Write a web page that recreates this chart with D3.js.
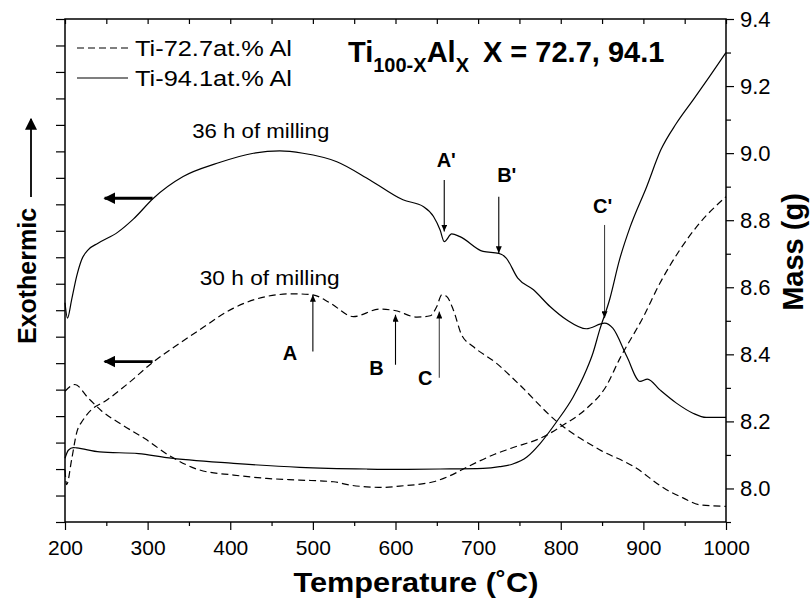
<!DOCTYPE html>
<html>
<head>
<meta charset="utf-8">
<script src="https://cdn.jsdelivr.net/npm/d3@7"></script>
<style>
  body { margin: 0; background: #fff; }
  svg { display: block; font-family: "Liberation Sans", Arial, Helvetica, sans-serif; }
</style>
</head>
<body>
<div id="chart"></div>
<script>
// temperature axis ticks (°C)
const xMajor = [200, 300, 400, 500, 600, 700, 800, 900, 1000];
const xMinor = [250, 350, 450, 550, 650, 750, 850, 950];
// right axis, mass (g)
const massMajor = [8.0, 8.2, 8.4, 8.6, 8.8, 9.0, 9.2, 9.4];
const massMinor = [7.9, 8.1, 8.3, 8.5, 8.7, 8.9, 9.1, 9.3];
// left axis has unlabelled ticks, heat flow in arbitrary units
const dscTicks = [0, 1, 2, 3, 4, 5, 6, 7, 8, 9, 10, 11, 12, 13, 14, 15, 16, 17, 18, 19];

// DSC, 36 h of milling (Ti-94.1at.% Al), solid
const dsc36T = [200, 203, 208, 214, 220, 228, 240, 264, 283, 307, 343, 384, 428, 460, 488, 529, 569, 609, 634, 646, 654, 659, 668, 678, 706, 725, 734, 748, 767, 787, 807, 831, 853, 863, 880, 896, 905, 920, 940, 960, 976, 1000];
const dsc36 = [8.28, 7.70, 8.39, 9.27, 9.90, 10.28, 10.53, 10.95, 11.45, 12.23, 13.05, 13.55, 13.93, 14.02, 13.93, 13.61, 12.92, 12.17, 11.91, 11.54, 11.03, 10.59, 10.88, 10.78, 10.22, 10.15, 9.97, 9.21, 8.77, 8.14, 7.64, 7.30, 7.51, 7.32, 6.25, 5.31, 5.40, 4.99, 4.49, 4.11, 3.95, 3.95];

// DSC, 30 h of milling (Ti-72.7at.% Al), dashed
const dsc30T = [200, 202, 208, 214, 222, 232, 248, 277, 305, 333, 363, 404, 444, 476, 500, 521, 549, 581, 599, 626, 642, 650, 656, 662, 670, 680, 694, 722, 748, 795, 847, 888, 928, 948, 968, 1000];
const dsc30 = [1.97, 1.41, 2.35, 3.36, 3.86, 4.24, 4.55, 5.25, 6.00, 6.63, 7.26, 8.08, 8.52, 8.62, 8.58, 8.27, 7.76, 8.04, 7.99, 7.74, 7.79, 8.14, 8.58, 8.52, 8.01, 7.07, 6.63, 6.00, 5.25, 3.80, 2.73, 2.10, 1.22, 0.91, 0.65, 0.59];

// mass, Ti-72.7at.% Al, dashed
const mass727T = [200, 212, 228, 244, 269, 297, 325, 363, 404, 444, 484, 525, 545, 565, 585, 605, 646, 666, 686, 700, 720, 740, 779, 803, 831, 855, 871, 900, 920, 944, 968, 1000];
const mass727 = [8.29, 8.31, 8.27, 8.232, 8.19, 8.148, 8.10, 8.055, 8.04, 8.03, 8.025, 8.02, 8.01, 8.005, 8.003, 8.007, 8.02, 8.038, 8.063, 8.08, 8.102, 8.12, 8.154, 8.189, 8.238, 8.305, 8.385, 8.512, 8.612, 8.711, 8.791, 8.87];

// mass, Ti-94.1at.% Al, solid
const mass941T = [200, 204, 210, 214, 242, 289, 323, 404, 484, 565, 605, 654, 706, 726, 742, 759, 775, 795, 815, 831, 839, 847, 859, 871, 884, 904, 921, 940, 960, 980, 1000];
const mass941 = [8.09, 8.114, 8.122, 8.121, 8.109, 8.104, 8.092, 8.075, 8.063, 8.058, 8.057, 8.058, 8.06, 8.065, 8.073, 8.094, 8.134, 8.199, 8.273, 8.353, 8.404, 8.472, 8.562, 8.681, 8.78, 8.90, 9.009, 9.089, 9.158, 9.228, 9.30];

// peak markers: temperature, arrow from / to (heat flow units)
const peaksBelow = [
  {name: "A", t: 500, from: 6.44, to: 8.58, lx: -23, ly: 8},
  {name: "B", t: 600, from: 5.94, to: 7.83, lx: -19, ly: 10},
  {name: "C", t: 653, from: 5.45, to: 7.95, lx: -14, ly: 7}
];
const peaksAbove = [
  {name: "A'", t: 659, from: 12.92, to: 10.97, lx: 2, ly: -13},
  {name: "B'", t: 725, from: 12.29, to: 10.15, lx: 8, ly: -15},
  {name: "C'", t: 853, from: 11.22, to: 7.70, lx: -2, ly: -12}
];

const W = 811, H = 600;
const margin = {top: 19, right: 85, bottom: 78, left: 65};
const x0 = margin.left, x1 = W - margin.right, y0 = H - margin.bottom, y1 = margin.top;

const svg = d3.select("#chart").append("svg")
    .attr("width", W)
    .attr("height", H);

const x = d3.scaleLinear().domain([200, 1000]).range([x0, x1]);
const yMass = d3.scaleLinear().domain([7.9, 9.4]).range([y0, y1]);
const yDsc = d3.scaleLinear().domain([0, 19]).range([y0, y1]);

const defs = svg.append("defs");
defs.append("marker")
    .attr("id", "tip")
    .attr("viewBox", "0 0 10 10")
    .attr("refX", 10).attr("refY", 5)
    .attr("markerUnits", "userSpaceOnUse")
    .attr("markerWidth", 7).attr("markerHeight", 6)
    .attr("preserveAspectRatio", "none")
    .attr("orient", "auto")
  .append("path").attr("d", "M0,0L10,5L0,10Z").attr("fill", "#000");
defs.append("marker")
    .attr("id", "bigtip")
    .attr("viewBox", "0 0 10 10")
    .attr("refX", 9).attr("refY", 5)
    .attr("markerUnits", "userSpaceOnUse")
    .attr("markerWidth", 12).attr("markerHeight", 12)
    .attr("preserveAspectRatio", "none")
    .attr("orient", "auto")
  .append("path").attr("d", "M0,0L10,5L0,10Z").attr("fill", "#000");

// axes
function styleAxis(g, fs) {
  g.select(".domain").remove();
  g.selectAll(".tick line").attr("stroke", "#000").attr("stroke-width", 1.2);
  g.selectAll(".tick text")
      .attr("fill", "#000")
      .attr("font-size", fs)
      .attr("font-family", "'Liberation Sans', Arial, sans-serif");
}

svg.append("g")
    .attr("transform", `translate(0,${y0})`)
    .call(d3.axisBottom(x).tickValues(xMajor).tickSize(8).tickPadding(10).tickFormat(d3.format("d")))
    .call(g => styleAxis(g, 21));
svg.append("g")
    .attr("transform", `translate(0,${y0})`)
    .call(d3.axisBottom(x).tickValues(xMinor).tickSize(4).tickFormat(""))
    .call(g => styleAxis(g, 21));
svg.append("g")
    .attr("transform", `translate(0,${y1})`)
    .call(d3.axisTop(x).tickValues(xMajor.concat(xMinor)).tickSize(-5).tickFormat(""))
    .call(g => styleAxis(g, 21));
svg.append("g")
    .attr("transform", `translate(${x0},0)`)
    .call(d3.axisLeft(yDsc).tickValues(dscTicks).tickSize(9).tickFormat(""))
    .call(g => styleAxis(g, 21));
svg.append("g")
    .attr("transform", `translate(${x1},0)`)
    .call(d3.axisRight(yMass).tickValues(massMajor).tickSize(8).tickPadding(6).tickFormat(d3.format(".1f")))
    .call(g => styleAxis(g, 22));
svg.append("g")
    .attr("transform", `translate(${x1},0)`)
    .call(d3.axisRight(yMass).tickValues(massMinor).tickSize(5).tickFormat(""))
    .call(g => styleAxis(g, 21));

svg.append("rect")
    .attr("x", x0).attr("y", y1)
    .attr("width", x1 - x0).attr("height", y0 - y1)
    .attr("fill", "none").attr("stroke", "#000").attr("stroke-width", 1.5);

// curves
const zip = (ts, vs) => ts.map((t, i) => [t, vs[i]]);
const dscLine = d3.line().x(d => x(d[0])).y(d => yDsc(d[1])).curve(d3.curveMonotoneX);
const massLine = d3.line().x(d => x(d[0])).y(d => yMass(d[1])).curve(d3.curveMonotoneX);

const curves = [
  {d: dscLine(zip(dsc36T, dsc36)), dash: null},
  {d: dscLine(zip(dsc30T, dsc30)), dash: "7,4"},
  {d: massLine(zip(mass727T, mass727)), dash: "7,4"},
  {d: massLine(zip(mass941T, mass941)), dash: null}
];
svg.append("g").selectAll("path")
  .data(curves)
  .join("path")
    .attr("d", c => c.d)
    .attr("fill", "none")
    .attr("stroke", "#000")
    .attr("stroke-width", 1.2)
    .attr("stroke-dasharray", c => c.dash);

// peak arrows and letters
const notes = svg.append("g");
peaksBelow.concat(peaksAbove).forEach(p => {
  const px = x(p.t);
  notes.append("line")
      .attr("x1", px).attr("y1", yDsc(p.from))
      .attr("x2", px).attr("y2", yDsc(p.to))
      .attr("stroke", p.name.startsWith("C") ? "#444" : "#000")
      .attr("stroke-width", 1.1)
      .attr("marker-end", "url(#tip)");
  notes.append("text")
      .attr("x", px + p.lx)
      .attr("y", yDsc(p.from) + p.ly)
      .attr("text-anchor", "middle")
      .attr("font-size", 20)
      .attr("font-weight", "bold")
      .text(p.name);
});

// arrows pointing to the left (heat-flow) axis
[12.23, 6.06].forEach(v => {
  notes.append("line")
      .attr("x1", x(306)).attr("y1", yDsc(v))
      .attr("x2", x(248)).attr("y2", yDsc(v))
      .attr("stroke", "#000")
      .attr("stroke-width", 2.8)
      .attr("marker-end", "url(#bigtip)");
});

notes.append("text")
    .attr("x", x(354)).attr("y", yDsc(14.5))
    .attr("font-size", 21)
    .attr("textLength", 137)
    .attr("lengthAdjust", "spacingAndGlyphs")
    .text("36 h of milling");
notes.append("text")
    .attr("x", x(363)).attr("y", yDsc(8.96))
    .attr("font-size", 21)
    .attr("textLength", 140)
    .attr("lengthAdjust", "spacingAndGlyphs")
    .text("30 h of milling");

// legend
const legend = svg.append("g");
const legendItems = [
  {label: "Ti-72.7at.% Al", dash: "7,4", y: 48},
  {label: "Ti-94.1at.% Al", dash: null, y: 78}
];
legendItems.forEach(it => {
  legend.append("line")
      .attr("x1", 77).attr("x2", 128)
      .attr("y1", it.y).attr("y2", it.y)
      .attr("stroke", "#000").attr("stroke-width", 1.2)
      .attr("stroke-dasharray", it.dash);
  legend.append("text")
      .attr("x", 135).attr("y", it.y + 8)
      .attr("font-size", 22)
      .attr("textLength", 157)
      .attr("lengthAdjust", "spacingAndGlyphs")
      .text(it.label);
});

// title
const title = svg.append("text")
    .attr("x", 348).attr("y", 62)
    .attr("font-weight", "bold")
    .attr("font-size", 29);
title.append("tspan").text("Ti");
title.append("tspan").attr("font-size", 20).attr("dy", 10).text("100-X");
title.append("tspan").attr("dy", -10).text("Al");
title.append("tspan").attr("font-size", 20).attr("dy", 10).text("X");
title.append("tspan").attr("dy", -10).attr("dx", 14).text("X = 72.7, 94.1");

// axis titles
svg.append("text")
    .attr("x", 416).attr("y", 592)
    .attr("text-anchor", "middle")
    .attr("font-size", 27)
    .attr("font-weight", "bold")
    .attr("textLength", 245)
    .attr("lengthAdjust", "spacingAndGlyphs")
    .text("Temperature (˚C)");

svg.append("text")
    .attr("transform", "translate(803,252) rotate(-90)")
    .attr("text-anchor", "middle")
    .attr("font-size", 29)
    .attr("font-weight", "bold")
    .text("Mass (g)");

svg.append("text")
    .attr("transform", "translate(36,276) rotate(-90)")
    .attr("text-anchor", "middle")
    .attr("font-size", 25)
    .attr("font-weight", "bold")
    .text("Exothermic");
svg.append("line")
    .attr("x1", 31).attr("y1", 197)
    .attr("x2", 31).attr("y2", 119)
    .attr("stroke", "#000")
    .attr("stroke-width", 1.8)
    .attr("marker-end", "url(#bigtip)");
</script>
</body>
</html>
